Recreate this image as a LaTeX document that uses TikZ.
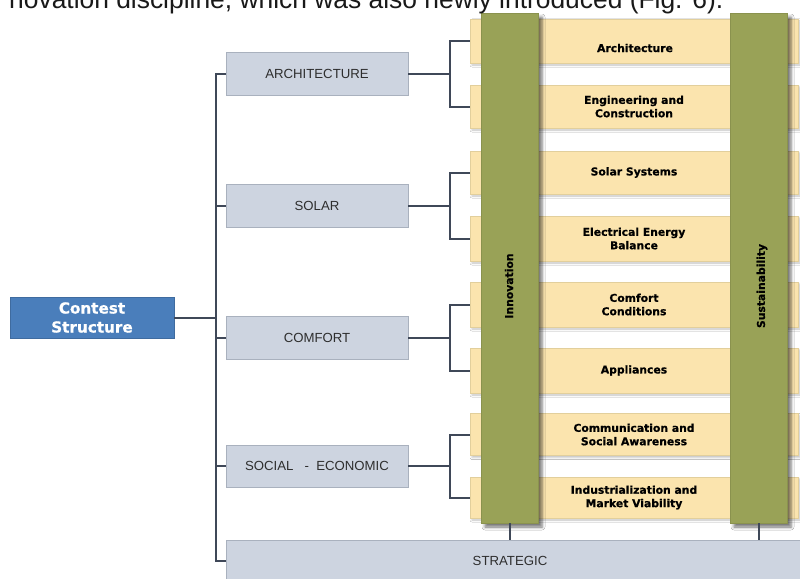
\documentclass[tikz,border=0pt]{standalone}
\usepackage{fontspec}
\setmainfont{Liberation Sans}
\newfontfamily\heavyfont{DejaVu Sans}[BoldFeatures={FakeBold=0.6}]
\usetikzlibrary{shadows.blur}
\definecolor{grayfill}{HTML}{CDD4E0}
\definecolor{grayline}{HTML}{A9B1BE}
\definecolor{bluefill}{HTML}{4A7EBB}
\definecolor{yellowfill}{HTML}{FBE4AE}
\definecolor{yellowline}{HTML}{E2CF9C}
\definecolor{greenfill}{HTML}{99A257}
\definecolor{connline}{HTML}{3F4858}
\definecolor{graytext}{HTML}{2E2E2E}
\tikzset{
  graybox/.style={draw=grayline, fill=grayfill, line width=0.8pt, minimum width=182, minimum height=43,
    text=graytext, font=\fontsize{13.2}{15}\selectfont, inner sep=0},
  graylabel/.style={text=graytext, font=\fontsize{13.2}{15}\selectfont, inner sep=0},
  bluebox/.style={draw=bluefill!85!black, fill=bluefill, line width=0.6pt, minimum width=164, minimum height=41,
    text=white, align=center, font=\fontsize{15.2}{19}\selectfont\heavyfont\bfseries, inner sep=0},
  ybox/.style={draw=yellowline, fill=yellowfill, line width=0.8pt, minimum width=328, minimum height=44,
    align=center, font=\fontsize{10.8}{13.4}\selectfont\heavyfont\bfseries, inner sep=0,
    blur shadow={shadow xshift=2pt, shadow yshift=-2pt, shadow blur radius=2pt, shadow opacity=25}},
  ylabel/.style={align=center, font=\fontsize{10.8}{13.4}\selectfont\heavyfont\bfseries, inner sep=0},
  gbar/.style={fill=greenfill, draw=greenfill!90!black, line width=0.4pt, minimum width=57, minimum height=510, inner sep=0,
    blur shadow={shadow xshift=4pt, shadow yshift=-4pt, shadow blur radius=3pt, shadow opacity=55}},
  glabel/.style={rotate=90, font=\fontsize{10.8}{13}\selectfont\heavyfont\bfseries, inner sep=0},
  conn/.style={draw=connline, line width=2pt}
}
\begin{document}
\begin{tikzpicture}[x=1pt,y=-1pt]
\useasboundingbox (0,0) rectangle (800,578);
\clip (0,0) rectangle (800,578);
\fill[white] (0,0) rectangle (800,578);

% left side
\node[bluebox] (contest) at (92,317.5) {Contest\\Structure};
\node[graybox] (arch) at (317,73.5) {ARCHITECTURE};
\node[graybox] (solar) at (317,205.5) {SOLAR};
\node[graybox] (comfort) at (317,337.5) {COMFORT};
\node[graybox, minimum height=42] (social) at (317,466) {SOCIAL \ \ - \ ECONOMIC};
\node[graybox, minimum width=600, minimum height=60, anchor=north west] (strategic) at (226,539.5) {};
\node[graylabel] (strategictext) at (510,561) {STRATEGIC};

% yellow rows
\node[ybox] (y1) at (634,41) {};
\node[ylabel] (y1t) at (635,48) {Architecture};
\node[ybox, minimum height=43] (y2) at (634,106.5) {Engineering and\\Construction};
\node[ybox, minimum height=43] (y3) at (634,172.5) {Solar Systems};
\node[ybox, minimum height=45] (y4) at (634,238.5) {Electrical Energy\\Balance};
\node[ybox, minimum height=45] (y5) at (634,304.5) {Comfort\\Conditions};
\node[ybox, minimum height=45] (y6) at (634,370.5) {Appliances};
\node[ybox, minimum height=42] (y7) at (634,434.5) {Communication and\\Social Awareness};
\node[ybox, minimum height=41] (y8) at (634,497.5) {Industrialization and\\Market Viability};

% green bars
\node[gbar] (innov) at (509.5,268) {};
\node[gbar] (sust) at (758.5,268) {};
\node[glabel] (innovtext) at (509,286) {Innovation};
\node[glabel] (susttext) at (762,286) {Sustainability};

% connectors
\coordinate (trunk) at (215.5,561);
\coordinate (bx) at (449.5,0);
\draw[conn] (arch.west) -- (arch.west -| trunk) -- (trunk) -- (strategic.west |- trunk);
\draw[conn] (solar.west) -- (solar.west -| trunk);
\draw[conn] (comfort.west) -- (comfort.west -| trunk);
\draw[conn] (social.west) -- (social.west -| trunk);
\draw[conn] (contest.east) -- (contest.east -| trunk);

\draw[conn] (arch.east) -- (arch.east -| bx);
\draw[conn] (y1.west) -- (y1.west -| bx) -- (y2.west -| bx) -- (y2.west);
\draw[conn] (solar.east) -- (solar.east -| bx);
\draw[conn] (y3.west) -- (y3.west -| bx) -- (y4.west -| bx) -- (y4.west);
\draw[conn] (comfort.east) -- (comfort.east -| bx);
\draw[conn] (y5.west) -- (y5.west -| bx) -- (y6.west -| bx) -- (y6.west);
\draw[conn] (social.east) -- (social.east -| bx);
\draw[conn] (y7.west) -- (y7.west -| bx) -- (y8.west -| bx) -- (y8.west);

\draw[conn] (innov.south) -- (innov.south |- strategic.north);
\draw[conn] (sust.south) -- (sust.south |- strategic.north);

% cut-off caption line above the figure
\node[anchor=base west, font=\fontsize{26.4}{30}\selectfont, text=black!90, inner sep=0] (caption) at (9,9)
  {novation discipline, which was also newly introduced (Fig. 6).};
\end{tikzpicture}
\end{document}
